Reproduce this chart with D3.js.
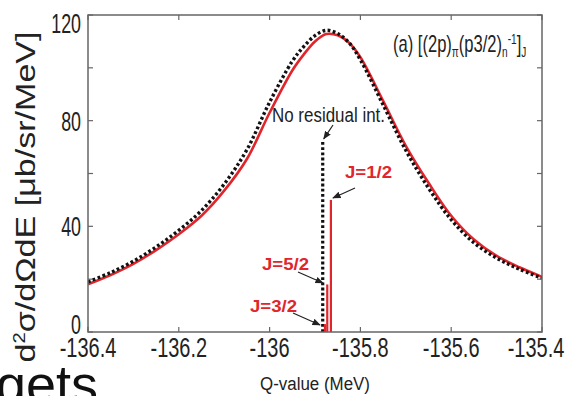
<!doctype html>
<html>
<head>
<meta charset="utf-8">
<script src="https://cdn.jsdelivr.net/npm/d3@7/dist/d3.min.js"></script>
<style>
  body { margin: 0; background: #fff; }
  svg { display: block; }
  text { font-family: "Liberation Sans", Arial, sans-serif; }
</style>
</head>
<body>
<svg id="chart" width="576" height="396"></svg>
<script>
// Q-value grid (MeV) and cross sections
var qGrid = [-136.4, -136.35, -136.3, -136.25, -136.2, -136.15, -136.1, -136.05, -136.0, -135.95,
             -135.925, -135.9, -135.875, -135.85, -135.825, -135.8, -135.75, -135.7, -135.65,
             -135.6, -135.55, -135.5, -135.45, -135.4];
var sigmaRed = [18.1, 21.6, 25.8, 31, 37, 44, 53.5, 65.5, 83, 99,
                105, 110, 112.8, 112.3, 109.5, 104, 87.5, 70.5, 56.5,
                44, 35, 28.8, 24.5, 20.9];
var sigmaBlack = [19, 22.5, 26.8, 32.2, 38.5, 46, 56, 69, 87, 102.5,
                  108, 112.2, 114.2, 113, 109.5, 103, 86, 68.8, 54.5,
                  42.5, 33.8, 28, 23.8, 20.4];

// discrete peaks
var peakQ = [-135.878, -135.873, -135.865];
var peakSigma = [3, 18, 50];
var peakLabels = ["J=3/2", "J=5/2", "J=1/2"];
var noResQ = -135.883, noResSigma = 72;

var xTicks = [-136.4, -136.2, -136, -135.8, -135.6, -135.4];
var yTicks = [0, 20, 40, 60, 80, 100, 120];
var yLabels = [0, 40, 80, 120];

var svg = d3.select("#chart");
var L = 88, R = 542, T = 15, B = 332;

var x = d3.scaleLinear().domain([-136.4, -135.4]).range([L, R]);
var y = d3.scaleLinear().domain([0, 120]).range([B, T]);

var red = "#e0262c", dark = "#111", ink = "#222";

// condensed text: horizontal squeeze around the anchor point
function ctext(g, px, py, sx) {
    return g.append("text").attr("transform", "translate(" + px + "," + py + ") scale(" + sx + ",1)");
}

// arrowhead
svg.append("defs").append("marker")
    .attr("id", "arr").attr("viewBox", "0 0 10 10")
    .attr("refX", 9).attr("refY", 5)
    .attr("markerWidth", 7).attr("markerHeight", 7)
    .attr("orient", "auto")
    .append("path").attr("d", "M0,1 L10,5 L0,9 Z").attr("fill", ink);

var line = d3.line().curve(d3.curveCatmullRom.alpha(0.5));

svg.append("clipPath").attr("id", "pc").append("rect")
    .attr("x", L).attr("y", T).attr("width", R - L).attr("height", B - T);
var plot = svg.append("g").attr("clip-path", "url(#pc)");

// red: with residual interaction
plot.append("path")
    .attr("d", line(qGrid.map(function (q, i) { return [x(q), y(sigmaRed[i])]; })))
    .attr("fill", "none").attr("stroke", red).attr("stroke-width", 2.6);

// black dotted: no residual interaction
plot.append("path")
    .attr("d", line(qGrid.map(function (q, i) { return [x(q), y(sigmaBlack[i])]; })))
    .attr("fill", "none").attr("stroke", dark).attr("stroke-width", 3.4)
    .attr("stroke-dasharray", "2.8,2.4");

plot.append("line")
    .attr("x1", x(noResQ)).attr("x2", x(noResQ))
    .attr("y1", y(0)).attr("y2", y(noResSigma))
    .attr("stroke", dark).attr("stroke-width", 3.2).attr("stroke-dasharray", "2.8,2.4");

plot.selectAll(".peak").data(peakQ).enter().append("line")
    .attr("class", "peak")
    .attr("x1", function (d) { return x(d); }).attr("x2", function (d) { return x(d); })
    .attr("y1", y(0))
    .attr("y2", function (d, i) { return y(peakSigma[i]); })
    .attr("stroke", red).attr("stroke-width", 2.2);

// frame + ticks
var axisCol = "#666";
svg.append("rect").attr("x", L).attr("y", T).attr("width", R - L).attr("height", B - T)
    .attr("fill", "none").attr("stroke", axisCol).attr("stroke-width", 1.5);

var tk = svg.append("g").attr("stroke", axisCol).attr("stroke-width", 1.2);
xTicks.forEach(function (v) {
    tk.append("line").attr("x1", x(v)).attr("x2", x(v)).attr("y1", B).attr("y2", B - 5);
    tk.append("line").attr("x1", x(v)).attr("x2", x(v)).attr("y1", T).attr("y2", T + 5);
});
yTicks.forEach(function (v) {
    tk.append("line").attr("x1", L).attr("x2", L + 5).attr("y1", y(v)).attr("y2", y(v));
    tk.append("line").attr("x1", R).attr("x2", R - 5).attr("y1", y(v)).attr("y2", y(v));
});

// tick labels
var lab = svg.append("g").attr("fill", ink);
xTicks.forEach(function (d, i) {
    ctext(lab, x(d) + (i === xTicks.length - 1 ? -6 : 0), 357, 0.74)
        .attr("text-anchor", "middle").attr("font-size", 27).text(String(d));
});
yLabels.forEach(function (d) {
    ctext(lab, 81, y(d) + 10 + (d === 120 ? 8 : d === 0 ? -8 : 0), 0.66)
        .attr("text-anchor", "end").attr("font-size", 27).text(d);
});

// axis titles
svg.append("text")
    .attr("x", (L + R) / 2).attr("y", 390)
    .attr("text-anchor", "middle").attr("font-size", 18).attr("fill", ink)
    .attr("textLength", 110).attr("lengthAdjust", "spacingAndGlyphs")
    .text("Q-value (MeV)");

var yt = svg.append("text")
    .attr("transform", "translate(35,197) rotate(-90)")
    .attr("text-anchor", "middle").attr("font-size", 27).attr("fill", ink)
    .attr("textLength", 331).attr("lengthAdjust", "spacingAndGlyphs");
yt.append("tspan").text("d");
yt.append("tspan").attr("font-size", 16).attr("dy", -10).text("2");
yt.append("tspan").attr("dy", 10).text("σ/dΩdE [μb/sr/MeV]");

// panel label
var pl = ctext(svg, 393, 52, 0.72).attr("font-size", 23).attr("fill", ink);
pl.append("tspan").text("(a) [(2p)");
pl.append("tspan").attr("font-size", 14).attr("dy", 5).text("π");
pl.append("tspan").attr("dy", -5).text("(p3/2)");
pl.append("tspan").attr("font-size", 14).attr("dy", 5).text("n");
pl.append("tspan").attr("font-size", 14).attr("dy", -13).text("-1");
pl.append("tspan").attr("dy", 8).text("]");
pl.append("tspan").attr("font-size", 14).attr("dy", 5).text("J");

// annotations
svg.append("text")
    .attr("x", 272).attr("y", 122).attr("font-size", 20).attr("fill", ink)
    .attr("textLength", 113).attr("lengthAdjust", "spacingAndGlyphs")
    .text("No residual int.");
svg.append("line")
    .attr("x1", 333).attr("y1", 125).attr("x2", x(noResQ) + 1).attr("y2", y(noResSigma) - 3)
    .attr("stroke", ink).attr("stroke-width", 1.2).attr("marker-end", "url(#arr)");

var labPos = [[250, 312, 293, 313, 320, 325], [262, 270, 298, 272, 323, 283], [345, 178, 355, 188, 333, 198]];
peakLabels.forEach(function (t, i) {
    var p = labPos[i];
    svg.append("text")
        .attr("x", p[0]).attr("y", p[1]).attr("font-size", 16).attr("font-weight", "bold")
        .attr("fill", red).attr("textLength", 47).attr("lengthAdjust", "spacingAndGlyphs")
        .text(t);
    svg.append("line")
        .attr("x1", p[2]).attr("y1", p[3]).attr("x2", p[4]).attr("y2", p[5])
        .attr("stroke", ink).attr("stroke-width", 1.2).attr("marker-end", "url(#arr)");
});

// slide text fragment at the bottom-left
svg.append("text")
    .attr("x", -4).attr("y", 403)
    .attr("font-family", "Open Sans, sans-serif").attr("font-size", 54).attr("fill", "#111")
    .text("gets");
</script>
</body>
</html>
